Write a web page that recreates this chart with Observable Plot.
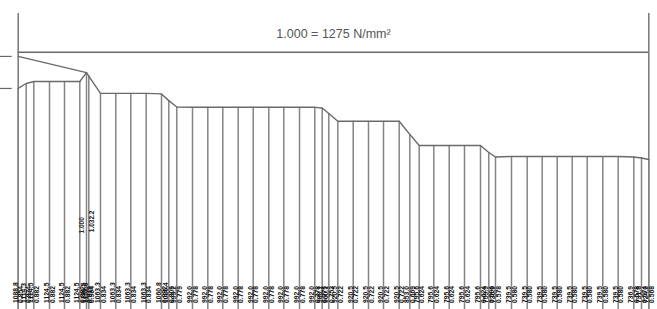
<!DOCTYPE html>
<html><head><meta charset="utf-8">
<script src="https://cdn.jsdelivr.net/npm/d3@7"></script>
<script src="https://cdn.jsdelivr.net/npm/@observablehq/plot@0.6"></script>
<style>
html,body{margin:0;padding:0;background:#fff;}
#chart svg{display:block;}
</style></head><body><div id="chart"></div>
<script>
// Station positions along the part (mm-like units)
const stations = [0, 8, 15.6, 31.3, 46.3, 61.6, 68.3, 70.6, 82.3, 97.6,
  112.6, 128, 143.3, 150.6, 158.6, 174.3, 189.6, 204.6, 220, 235,
  250.6, 265.6, 281.3, 296.6, 304, 310.6, 319.6, 335, 350.3, 365.3,
  381, 391.6, 401, 415.6, 431, 446.3, 462.3, 470.6, 477.3, 493.3,
  509, 524, 539, 554, 569, 584.6, 600, 615.6, 623.3, 630.6];
// Stress ratio (1.000 = 1275 N/mm²) at each station
const ratios = [0.854, 0.874, 0.882, 0.882, 0.882, 0.882, 0.918, 0.904, 0.834, 0.834,
  0.834, 0.834, 0.832, 0.805, 0.779, 0.778, 0.778, 0.778, 0.778, 0.778,
  0.778, 0.778, 0.778, 0.778, 0.775, 0.753, 0.722, 0.722, 0.722, 0.722,
  0.722, 0.669, 0.624, 0.624, 0.624, 0.624, 0.624, 0.596, 0.578, 0.580,
  0.580, 0.580, 0.580, 0.580, 0.580, 0.580, 0.580, 0.578, 0.574, 0.568];
// Upper envelope at the start
const upperX = [0, 68.3];
const upperR = [0.983, 0.918];
const startTicks = [0.983, 0.854];
const referenceRatio = 1.0;
const referenceStress = 1275;
const referenceLabel = "1.000 = 1275 N/mm²";
const peakNoteX = [68.3, 70.6];
const peakNoteText = ["1.000", "1.032.2"];

const profile = stations.map((x, i) => ({x, r: ratios[i]}));
const upper = upperX.map((x, i) => ({x, r: upperR[i]}));
const yBottom = -0.037, yTop = 1.156;
const font = "Liberation Sans, Arial, sans-serif";
const lineColor = "#858585";

const chart = Plot.plot({
  width: 657, height: 309,
  marginLeft: 17.7, marginRight: 8.7, marginTop: 0, marginBottom: 0,
  style: {fontFamily: font, background: "#fff"},
  x: {domain: [0, 630.6], axis: null},
  y: {domain: [-0.0362, 1.2082], axis: null},
  marks: [
    // frame verticals
    Plot.ruleX([stations[0], stations[stations.length - 1]], {y1: yTop, y2: yBottom, stroke: "#777", strokeWidth: 1.5}),
    // reference line 1.000
    Plot.ruleY([referenceRatio], {x1: stations[0], x2: stations[stations.length - 1], stroke: "#6a6a6a", strokeWidth: 1.6}),
    // start ticks
    Plot.axisY(startTicks, {anchor: "left", tickSize: 12, dx: -6, tickFormat: () => "", label: null, stroke: "#666", strokeWidth: 1.2}),
    // station verticals
    Plot.ruleX(profile, {x: "x", y1: "r", y2: yBottom, stroke: lineColor, strokeWidth: 1.5}),
    // profile lines
    Plot.line(profile, {x: "x", y: "r", stroke: "#6a6a6a", strokeWidth: 1.4}),
    Plot.line(upper, {x: "x", y: "r", stroke: "#6a6a6a", strokeWidth: 1.4}),
    // reference label
    Plot.text([referenceLabel], {frameAnchor: "top", dy: 33, text: d => d, fontSize: 12.5, fill: "#555", lineAnchor: "middle"}),
    // bottom labels
    Plot.text(profile, {x: "x", y: -0.01, text: d => (d.r * referenceStress).toFixed(1), rotate: -90, textAnchor: "start", lineAnchor: "middle", dx: -2.8, fontSize: 6.8, fontWeight: "bold", fill: "#111"}),
    Plot.text(profile, {x: "x", y: -0.01, text: d => d.r.toFixed(3), rotate: -90, textAnchor: "start", lineAnchor: "middle", dx: 2.9, fontSize: 6.8, fontWeight: "bold", fill: "#111"}),
    // peak notes
    Plot.text([peakNoteText[0]], {x: peakNoteX[0], y: 0.27, text: d => d, rotate: -90, textAnchor: "start", lineAnchor: "middle", dx: -4.5, fontSize: 6.5, fontWeight: "bold", fill: "#333"}),
    Plot.text([peakNoteText[1]], {x: peakNoteX[1], y: 0.275, text: d => d, rotate: -90, textAnchor: "start", lineAnchor: "middle", dx: 3.5, fontSize: 6.5, fontWeight: "bold", fill: "#111"})
  ]
});
document.getElementById("chart").appendChild(chart);
</script>
</body></html>
